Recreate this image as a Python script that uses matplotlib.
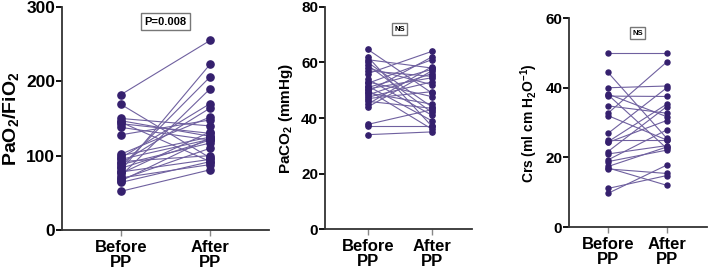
import matplotlib
matplotlib.use("Agg")
import matplotlib.pyplot as plt

plt.rcParams['font.family'] = ['Liberation Sans', 'DejaVu Sans']
plt.rcParams['font.weight'] = 'bold'
plt.rcParams['mathtext.fontset'] = 'custom'
plt.rcParams['mathtext.rm'] = 'Liberation Sans:bold'
plt.rcParams['mathtext.bf'] = 'Liberation Sans:bold'
plt.rcParams['mathtext.default'] = 'bf'

groups = ["Before\nPP", "After\nPP"]

# PaO2/FiO2 paired values (before, after)
pf_before = [182, 169, 150, 147, 145, 143, 138, 128, 102, 100, 97, 95, 92,
             90, 88, 85, 83, 80, 78, 76, 73, 70, 68, 66, 64, 52]
pf_after = [255, 97, 140, 126, 92, 130, 121, 148, 152, 125, 170, 122, 100,
            164, 117, 206, 121, 223, 95, 132, 190, 88, 110, 124, 92, 81]

# PaCO2 (mmHg)
co2_before = [64.7, 62, 61, 60, 59, 58, 57, 56, 54, 53, 52.5, 51.5, 51, 50.5,
              50, 49.5, 49, 48.3, 47.5, 47, 46, 45, 44, 37.7, 37, 34]
co2_after = [49, 37, 58, 44, 42, 52, 55, 64, 41, 47.7, 61, 39, 57.5, 54.5,
             36, 62, 45, 56, 53, 49.5, 43.5, 58.5, 57, 43, 37, 35]

# Crs (ml/cmH2O)
crs_before = [50, 44.4, 40, 38.2, 38, 37.6, 34.8, 32.7, 32, 26.9, 25, 24.5,
              24.3, 21.7, 21, 19.3, 18.8, 17.4, 17, 16.7, 11.1, 9.7]
crs_after = [50, 25.5, 40.5, 31.7, 22.6, 37.5, 32.7, 47.4, 25, 40, 25, 35.3,
             30.6, 34.6, 23.4, 27.9, 22.1, 23, 12, 15.4, 14.8, 17.8]

panels = [
    dict(before=pf_before, after=pf_after, ylim=300, yticks=[0, 100, 200, 300],
         ylabel="PaO$_2$/FiO$_2$", label_fs=14, tick_fs=12.5, ms=5.2,
         note="P=0.008", note_y=280, note_fs=8,
         pos=[0.0876, 0.1727, 0.2924, 0.8023], xr=(-0.66, 1.66)),
    dict(before=co2_before, after=co2_after, ylim=80, yticks=[0, 20, 40, 60, 80],
         ylabel="PaCO$_2$ (mmHg)", label_fs=11, tick_fs=11, ms=3.8,
         note="NS", note_y=72, note_fs=5.5,
         pos=[0.459, 0.176, 0.208, 0.799], xr=(-0.67, 1.63)),
    dict(before=crs_before, after=crs_after, ylim=60, yticks=[0, 20, 40, 60],
         ylabel="Crs (ml cm H$_2$O$^{-1}$)", label_fs=10, tick_fs=11, ms=3.6,
         note="NS", note_y=55.7, note_fs=5.5,
         pos=[0.804, 0.183, 0.195, 0.752], xr=(-0.66, 1.69)),
]

line_color = "#6f609f"
dot_color = "#35206e"

fig = plt.figure(figsize=(7.08, 2.78), dpi=100)
for p in panels:
    ax = fig.add_axes(p["pos"])
    for b, a in zip(p["before"], p["after"]):
        ax.plot([0, 1], [b, a], color=line_color, lw=0.8, zorder=2)
    ax.plot([0] * len(p["before"]), p["before"], "o", color=dot_color,
            ms=p["ms"], mec=dot_color, zorder=3, clip_on=False)
    ax.plot([1] * len(p["after"]), p["after"], "o", color=dot_color,
            ms=p["ms"], mec=dot_color, zorder=3, clip_on=False)
    ax.set_xlim(*p["xr"])
    ax.set_ylim(0, p["ylim"])
    ax.set_yticks(p["yticks"])
    ax.set_xticks([0, 1])
    ax.set_xticklabels(groups, fontsize=12, fontweight="bold", linespacing=1.0)
    ax.tick_params(axis="y", labelsize=p["tick_fs"], length=4, width=1.3, pad=1)
    ax.tick_params(axis="x", length=4, width=1.0, pad=3, color="#888888")
    for t in ax.get_yticklabels():
        t.set_fontweight("bold")
    ax.set_ylabel(p["ylabel"], fontsize=p["label_fs"], fontweight="bold", labelpad=4)
    for s in ["top", "right"]:
        ax.spines[s].set_visible(False)
    ax.spines["left"].set_linewidth(1.3)
    ax.spines["bottom"].set_linewidth(1.3)
    ax.spines["left"].set_color("#333333")
    ax.spines["bottom"].set_color("#333333")
    ax.text(0.5, p["note_y"], p["note"], ha="center", va="center",
            fontsize=p["note_fs"], fontweight="bold",
            bbox=dict(boxstyle="square,pad=0.3", fc="white", ec="#777777", lw=1.0))

fig.savefig("out.png", dpi=100)
